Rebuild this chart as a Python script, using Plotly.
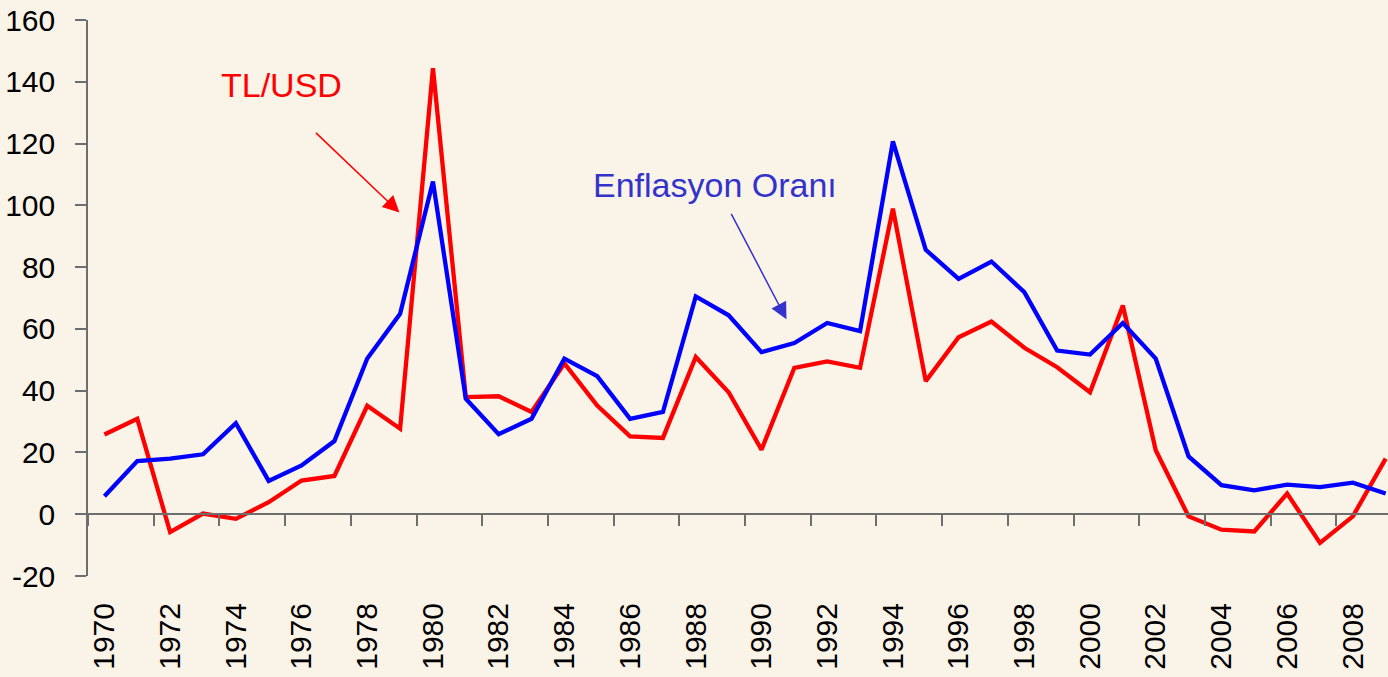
import plotly.graph_objects as go

years = list(range(1970, 2010))
tl_usd = [25.8, 30.9, -5.8, 0.2, -1.5, 3.9, 10.9, 12.4, 35.1, 27.7,
          144.4, 37.9, 38.2, 33.1, 48.8, 35.2, 25.2, 24.7, 50.9, 39.5,
          20.9, 47.4, 49.5, 47.4, 98.9, 43.1, 57.3, 62.4, 53.9, 47.6,
          39.5, 67.6, 20.7, -0.7, -5.0, -5.6, 6.7, -9.3, -0.7, 18.0]
enflasyon = [5.8, 17.2, 18.0, 19.4, 29.5, 10.8, 15.8, 23.7, 50.4, 64.9,
             107.7, 37.4, 25.9, 30.9, 50.4, 44.7, 30.9, 33.1, 70.5, 64.4,
             52.5, 55.4, 61.9, 59.3, 120.7, 85.6, 76.2, 81.8, 71.9, 53.0,
             51.7, 61.9, 50.4, 18.7, 9.4, 7.7, 9.6, 8.8, 10.2, 6.7]
label_years = list(range(1970, 2009, 2))
boundary_ticks = [y - 0.5 for y in range(1970, 2010, 2)]
y_ticks = list(range(-20, 161, 20))
y_tick_text = [str(v) for v in y_ticks]

BG = "#faf3e8"
AX = "#6e6e6e"
FONT = "Liberation Sans, Arial, sans-serif"
XR = [1969.5, 2009.07]
YR = [-20, 160]

fig = go.Figure()
fig.add_trace(go.Scatter(x=years, y=tl_usd, mode="lines", name="TL/USD",
                         line=dict(color="#ff0000", width=4.3), showlegend=False))
fig.add_trace(go.Scatter(x=years, y=enflasyon, mode="lines", name="Enflasyon Oranı",
                         line=dict(color="#0000ff", width=4.3), showlegend=False))
fig.add_trace(go.Scatter(x=[], y=[], xaxis="x2", showlegend=False))

fig.update_layout(
    width=1388, height=677,
    paper_bgcolor=BG, plot_bgcolor=BG,
    margin=dict(l=88, r=0, t=20, b=101),
    font=dict(family=FONT, size=30, color="#000000"),
    xaxis=dict(range=XR, tickvals=label_years, ticktext=[str(y) for y in label_years],
               tickangle=-90, ticks="", showline=False, showgrid=False, zeroline=False,
               ticklabelstandoff=20, tickfont=dict(size=30)),
    xaxis2=dict(range=XR, overlaying="x", anchor="free", position=20 / 180, side="bottom",
                tickvals=boundary_ticks, showticklabels=False, ticks="outside", ticklen=11,
                tickwidth=1.5, tickcolor=AX, showline=True, linecolor=AX, linewidth=1.5,
                showgrid=False, zeroline=False),
    yaxis=dict(range=YR, tickvals=y_ticks, ticktext=y_tick_text, ticks="outside", ticklen=11,
               tickwidth=1.5, tickcolor=AX, showline=True, linecolor=AX, linewidth=1.5,
               showgrid=False, zeroline=False, tickfont=dict(size=30), ticklabelstandoff=14),
)

fig.add_annotation(x=1975.39, y=139, text="TL/USD", showarrow=False,
                   font=dict(size=34, color="#ff0000"))
fig.add_annotation(x=1978.98, y=97.7, ax=-85, ay=-81, text="", showarrow=True,
                   arrowhead=2, arrowsize=2.2, arrowwidth=1.5, arrowcolor="#ff0000")
fig.add_annotation(x=1988.59, y=106.7, text="Enflasyon Oranı", showarrow=False,
                   font=dict(size=34, color="#3333cc"))
fig.add_annotation(x=1990.76, y=63.1, ax=-56, ay=-107, text="", showarrow=True,
                   arrowhead=2, arrowsize=2.2, arrowwidth=1.5, arrowcolor="#3333cc")

fig.write_html("out.html",
               config={"displayModeBar": False},
               post_script="document.body.style.margin='0';"
                           "document.body.style.background='#faf3e8';"
                           "document.body.style.overflow='hidden';")
